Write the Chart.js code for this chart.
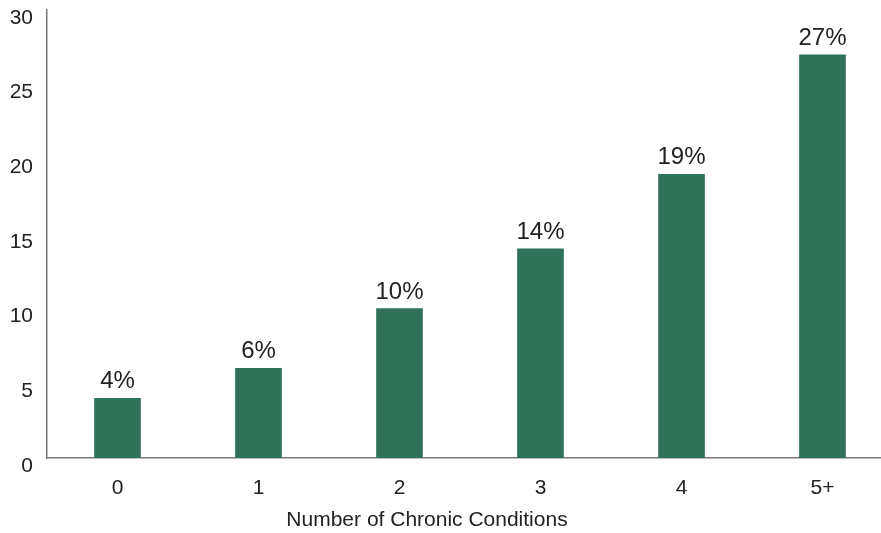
<!DOCTYPE html>
<html>
<head>
<meta charset="utf-8">
<script src="https://cdn.jsdelivr.net/npm/chart.js@4"></script>
<style>
  html, body { margin: 0; padding: 0; background: #fff; overflow: hidden; }
  #wrap { width: 893px; height: 533px; position: relative; }
</style>
</head>
<body>
<div id="wrap"><canvas id="myChart"></canvas></div>
<script>
// chart data
let categories = ["0", "1", "2", "3", "4", "5+"];
let shares = [4, 6, 10, 14, 19, 27];
let yTicks = [0, 5, 10, 15, 20, 25, 30];
let axisTitle = "Number of Chronic Conditions";

let fontFamily = "'Liberation Sans', Arial, Helvetica, sans-serif";
let textColor = "#222";

// draws the "4%" labels above each bar, and the x axis title
// (the title sits left of the plot centre in the original)
const barLabels = {
    id: "barLabels",
    afterDatasetsDraw(chart) {
        const ctx = chart.ctx;
        const meta = chart.getDatasetMeta(0);
        ctx.save();
        ctx.font = "24px " + fontFamily;
        ctx.fillStyle = textColor;
        ctx.textAlign = "center";
        ctx.textBaseline = "alphabetic";
        meta.data.forEach((bar, i) => {
            ctx.fillText(shares[i] + "%", bar.x, bar.y - 10);
        });

        ctx.font = "21px " + fontFamily;
        ctx.textBaseline = "middle";
        const xAxis = chart.scales.x;
        ctx.fillText(axisTitle, 427, xAxis.bottom - 13);
        ctx.restore();
    }
};

const ctx = document.getElementById("myChart").getContext("2d");
const myChart = new Chart(ctx, {
    type: "bar",
    data: {
        labels: categories,
        datasets: [{
            data: shares,
            backgroundColor: "#30715a",
            barThickness: 46
        }]
    },
    options: {
        responsive: true,
        maintainAspectRatio: false,
        animation: false,
        layout: { padding: { top: 10, left: 10, right: 0, bottom: 0 } },
        plugins: {
            legend: { display: false },
            tooltip: { enabled: false }
        },
        scales: {
            x: {
                afterFit(axis) {
                    axis.height = 75;
                    axis.paddingLeft = 0;
                    axis.paddingRight = 0;
                },
                grid: { display: false, drawTicks: false },
                border: { display: true, color: "#7a7a7a", width: 1.5 },
                ticks: {
                    color: textColor,
                    font: { family: fontFamily, size: 21 },
                    padding: 18
                }
            },
            y: {
                min: 0,
                max: 30,
                afterBuildTicks(axis) {
                    axis.ticks = yTicks.map(v => ({ value: v }));
                },
                afterFit(axis) {
                    axis.width = 37;
                    axis.paddingTop = 0;
                    axis.paddingBottom = 0;
                },
                grid: { display: false, drawTicks: false },
                border: { display: true, color: "#7a7a7a", width: 1.5 },
                ticks: {
                    color: textColor,
                    font: { family: fontFamily, size: 21 },
                    padding: 14,
                    labelOffset: 8
                }
            }
        }
    },
    plugins: [barLabels]
});
</script>
</body>
</html>
